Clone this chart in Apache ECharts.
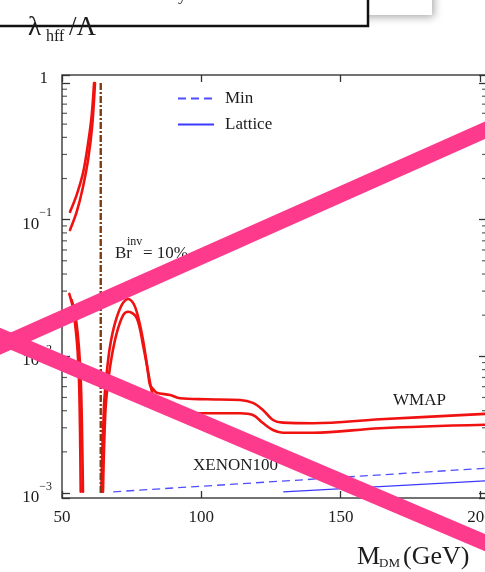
<!DOCTYPE html>
<html><head><meta charset="utf-8">
<script src="https://cdn.jsdelivr.net/npm/echarts@6.0.0/dist/echarts.min.js"></script>
<style>html,body{margin:0;padding:0;background:#fff}#c{width:485px;height:572px}</style>
</head><body><div id="c"></div>
<script>
// ---- data (M_DM in GeV, lambda_hff / Lambda) ----
const xTicks = [50, 100, 150, 200];
const yDecades = [0.001, 0.01, 0.1, 1];
const upperRise = [[52.87,0.114],[55.27,0.152],[57.64,0.224],[59.44,0.372],[60.66,0.583],[61.5,1.0]];
const lowerRise = [[52.87,0.084],[55.27,0.114],[57.43,0.170],[59.44,0.281],[60.87,0.493],[61.84,1.0]];
const upperDip = [[52.62,0.0286],[53.84,0.0231],[54.66,0.0175],[55.49,0.0118],[56.10,0.0067],[56.46,0.0029],[56.71,0.00102]];
const lowerDip = [[53.48,0.0258],[54.66,0.0207],[55.63,0.0147],[56.46,0.0089],[56.93,0.0051],[57.28,0.0022],[57.53,0.00102]];
const upperMain = [[64.10,0.00102],[64.46,0.00206],[64.89,0.00342],[65.18,0.00479],[66.04,0.00755],[67.22,0.0118],[69.02,0.0175],[71.42,0.0237],[73.79,0.0263],[76.19,0.0231],[78.60,0.0148],[80.39,0.00894],[80.97,0.0073],[81.57,0.00617],[82.65,0.00577],[83.98,0.00542],[88.76,0.00521],[92.34,0.00493],[101.9,0.00485],[113.9,0.00479],[118.5,0.00456],[122.1,0.00405],[125.7,0.00342],[129.3,0.00327],[140.1,0.00324],[164.1,0.00346],[202.5,0.00380]];
const lowerMain = [[64.71,0.00102],[65.07,0.00206],[65.68,0.00428],[66.61,0.00671],[67.83,0.00994],[69.63,0.0148],[72.00,0.0201],[73.79,0.0212],[76.80,0.0191],[79.17,0.0118],[80.97,0.00755],[82.29,0.00548],[83.73,0.00448],[85.88,0.00405],[92.34,0.00388],[100.1,0.00383],[113.9,0.00383],[118.5,0.00372],[122.1,0.00325],[125.7,0.00289],[129.3,0.00276],[140.1,0.00276],[164.1,0.00298],[202.5,0.00316]];
const brInvLine = [[63.9,0.001],[63.9,1]];
const minLine = [[68.4,0.00102],[202.5,0.00152]];
const latticeLine = [[129.4,0.00102],[202.5,0.00123]];
const minorMultipliers = [2,3,4,5,6,7,8,9];

const SERIF = "'Liberation Serif','Times New Roman',serif";
const TXT = '#1c1c1c';
const xMin = 50, xMax = 202.5;
const yMin = 0.000919, yMax = 1.144;

const minorVals = [];
yDecades.slice(0,3).forEach(d => minorMultipliers.forEach(k => minorVals.push(+(d*k).toPrecision(3))));

function fmtY(v){
  const l = Math.log10(v), r = Math.round(l);
  if (Math.abs(l - r) > 1e-6) return '';
  if (r === 0) return '{one|1}';
  return '{b|10}{s|\u2212' + (-r) + '}';
}
function redSeries(name, data, smooth){
  return {name, type:'line', data, symbol:'none', showSymbol:false, smooth:smooth,
    lineStyle:{color:'#f01111', width:2.6, cap:'round', join:'round'}, itemStyle:{color:'#f01111'}, z:3, silent:true};
}

const chart = echarts.init(document.getElementById('c'), null, {renderer:'canvas'});
chart.setOption({
  animation:false,
  backgroundColor:'#ffffff',
  grid:{left:62, top:75, width:425, height:423, show:true, borderColor:'#444', borderWidth:1.5,
        backgroundColor:'transparent', containLabel:false, outerBoundsMode:'none'},
  legend:{data:['Min','Lattice'], orient:'vertical', left:172, top:85, itemWidth:36, itemHeight:14, itemGap:9,
    itemStyle:{opacity:0},
    textStyle:{fontFamily:SERIF, fontSize:17, color:TXT, lineHeight:14, padding:[0,0,0,6]}, selectedMode:false},
  xAxis:[
    {type:'value', min:xMin, max:xMax, interval:50, position:'bottom',
     axisLine:{show:false}, splitLine:{show:false},
     axisTick:{show:true, inside:true, length:7, lineStyle:{color:'#333', width:1.3}},
     axisLabel:{margin:11, fontFamily:SERIF, fontSize:17, color:TXT, showMaxLabel:true, hideOverlap:false,
       formatter: v => xTicks.indexOf(v) >= 0 ? String(v) : ''}},
    {type:'value', min:xMin, max:xMax, interval:50, position:'top',
     axisLine:{show:false}, splitLine:{show:false},
     axisTick:{show:true, inside:true, length:7, lineStyle:{color:'#333', width:1.3}},
     axisLabel:{show:false}}
  ],
  yAxis:[
    {type:'log', logBase:10, min:yMin, max:yMax, position:'left',
     axisLine:{show:false}, splitLine:{show:false},
     axisTick:{show:true, inside:true, length:8, lineStyle:{color:'#333', width:1.3}},
     axisLabel:{margin:10, formatter:fmtY, padding:[9,0,0,0],
       rich:{
         b:{fontFamily:SERIF, fontSize:17, color:TXT, lineHeight:34},
         s:{fontFamily:SERIF, fontSize:12, color:TXT, lineHeight:12, verticalAlign:'top'},
         one:{fontFamily:SERIF, fontSize:17, color:TXT, lineHeight:17, padding:[0,4,18,0]}
       }}},
    {type:'log', logBase:10, min:yMin, max:yMax, position:'right',
     axisLine:{show:false}, splitLine:{show:false},
     axisTick:{show:true, inside:true, length:8, lineStyle:{color:'#333', width:1.3}},
     axisLabel:{show:false}}
  ],
  series:[
    redSeries('upperRise', upperRise, 0.3),
    redSeries('lowerRise', lowerRise, 0.3),
    redSeries('upperDip', upperDip, 0.3),
    redSeries('lowerDip', lowerDip, 0.3),
    redSeries('upperMain', upperMain, 0.35),
    redSeries('lowerMain', lowerMain, 0.35),
    {name:'BrInv', type:'line', data:brInvLine, symbol:'none', z:4, silent:true,
     lineStyle:{color:'#7d3b12', width:2.4, type:[7,2,2,2]}, itemStyle:{color:'#7d3b12'}},
    {name:'Min', type:'line', data:minLine, symbol:'none', z:3, silent:true,
     lineStyle:{color:'#4f4fff', width:1.3, type:[8,5]}, itemStyle:{color:'#4f4fff'}},
    {name:'Lattice', type:'line', data:latticeLine, symbol:'none', z:3, silent:true,
     lineStyle:{color:'#3a3aff', width:1.3}, itemStyle:{color:'#3a3aff'}},
    {name:'minorL', type:'scatter', xAxisIndex:0, yAxisIndex:0, clip:false, silent:true, z:5,
     data: minorVals.map(v => [xMin, v]), symbol:'rect', symbolSize:[5,1.2], symbolOffset:[2.5,0],
     itemStyle:{color:'#333'}},
    {name:'minorR', type:'scatter', xAxisIndex:0, yAxisIndex:0, clip:false, silent:true, z:5,
     data: minorVals.map(v => [xMax, v]), symbol:'rect', symbolSize:[5,1.2], symbolOffset:[-2.5,0],
     itemStyle:{color:'#333'}}
  ],
  graphic:[
    {type:'rect', z:1, shape:{x:-10, y:-10, width:442, height:25}, style:{fill:'#fff', shadowBlur:8, shadowColor:'rgba(0,0,0,0.35)', shadowOffsetX:2, shadowOffsetY:2}},
    {type:'rect', z:2, shape:{x:-10, y:-10, width:378, height:36}, style:{fill:'#fff', stroke:'#111', lineWidth:2.5}},
    {type:'text', z:3, x:178, y:-13, style:{text:'y', font:'17px '+SERIF, fill:TXT}},
    {type:'text', z:50, x:28, y:28, style:{text:'\u03bb', font:'27px '+SERIF, fill:TXT, verticalAlign:'middle'}},
    {type:'text', z:50, x:46, y:37, style:{text:'hff', font:'16px '+SERIF, fill:TXT, verticalAlign:'middle'}},
    {type:'text', z:50, x:69, y:28, style:{text:'/\u039b', font:'27px '+SERIF, fill:TXT, verticalAlign:'middle'}},
    {type:'text', z:50, x:115, y:254, style:{text:'Br', font:'17px '+SERIF, fill:TXT, verticalAlign:'middle'}},
    {type:'text', z:50, x:127, y:242, style:{text:'inv', font:'12px '+SERIF, fill:TXT, verticalAlign:'middle'}},
    {type:'text', z:50, x:143, y:254, style:{text:'= 10%', font:'17px '+SERIF, fill:TXT, verticalAlign:'middle'}},
    {type:'text', z:50, x:393, y:401, style:{text:'WMAP', font:'17px '+SERIF, fill:TXT, verticalAlign:'middle'}},
    {type:'text', z:50, x:193, y:466, style:{text:'XENON100', font:'17px '+SERIF, fill:TXT, verticalAlign:'middle'}},
    {type:'text', z:50, x:357, y:557, style:{text:'M', font:'26px '+SERIF, fill:TXT, verticalAlign:'middle'}},
    {type:'text', z:50, x:379, y:564, style:{text:'DM', font:'13px '+SERIF, fill:TXT, verticalAlign:'middle'}},
    {type:'text', z:50, x:403, y:557, style:{text:'(GeV)', font:'26px '+SERIF, fill:TXT, verticalAlign:'middle'}},
    {type:'line', z:100, shape:{x1:-20, y1:354.9, x2:505, y2:121.3}, style:{stroke:'#fe3a8c', lineWidth:16}},
    {type:'line', z:100, shape:{x1:-20, y1:328, x2:505, y2:551.1}, style:{stroke:'#fe3a8c', lineWidth:16}}
  ]
});
</script></body></html>
